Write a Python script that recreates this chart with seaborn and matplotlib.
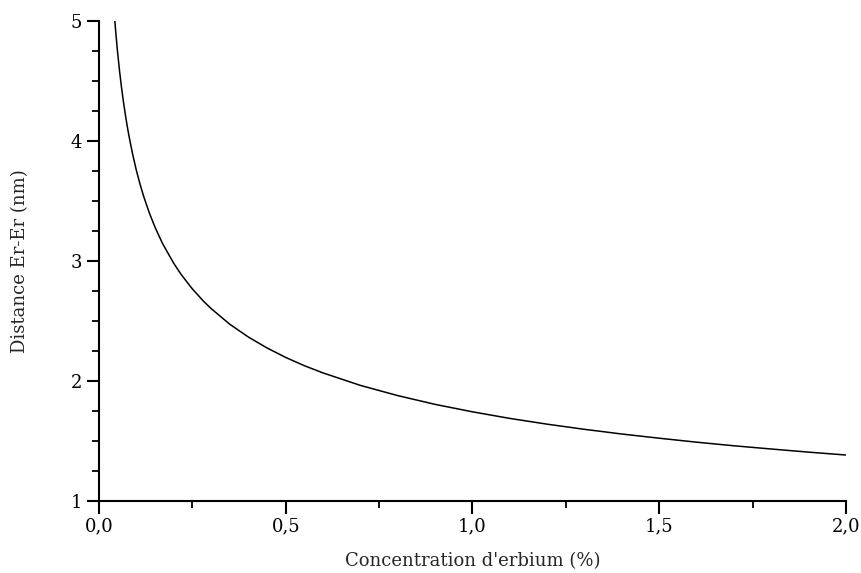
import matplotlib
matplotlib.use("Agg")
import matplotlib.pyplot as plt
import seaborn as sns
import pandas as pd
from matplotlib.ticker import MultipleLocator, FixedLocator

# Data
concentration = [0.042, 0.046, 0.05, 0.055, 0.06, 0.065, 0.07, 0.075, 0.08, 0.09,
                 0.10, 0.11, 0.12, 0.135, 0.15, 0.17, 0.20, 0.22, 0.25, 0.28,
                 0.30, 0.35, 0.40, 0.45, 0.50, 0.55, 0.60, 0.70, 0.80, 0.90,
                 1.00, 1.10, 1.20, 1.30, 1.40, 1.50, 1.60, 1.70, 1.80, 1.90, 2.00]
distance = [5.014, 4.865, 4.731, 4.583, 4.452, 4.335, 4.230, 4.133, 4.045, 3.890,
            3.755, 3.638, 3.534, 3.398, 3.281, 3.146, 2.981, 2.887, 2.767, 2.664,
            2.604, 2.473, 2.366, 2.275, 2.196, 2.127, 2.067, 1.963, 1.878, 1.805,
            1.743, 1.688, 1.640, 1.597, 1.558, 1.523, 1.490, 1.460, 1.433, 1.407, 1.383]
x_ticks = [0.0, 0.5, 1.0, 1.5, 2.0]
x_tick_labels = ["0,0", "0,5", "1,0", "1,5", "2,0"]
y_ticks = [1, 2, 3, 4, 5]
y_tick_labels = ["1", "2", "3", "4", "5"]

sns.set_theme(style="ticks")
plt.rcParams['font.family'] = ['DejaVu Serif']

df = pd.DataFrame({"x": concentration, "y": distance})

fig = plt.figure(figsize=(8.61, 5.73), dpi=100)
ax = fig.add_axes([0.115, 0.1257, 0.8675, 0.8377])
sns.lineplot(data=df, x="x", y="y", ax=ax, color="black", linewidth=1.1)

ax.set_xlim(0, 2.0)
ax.set_ylim(1, 5)
ax.xaxis.set_major_locator(FixedLocator(x_ticks))
ax.set_xticklabels(x_tick_labels)
ax.yaxis.set_major_locator(FixedLocator(y_ticks))
ax.set_yticklabels(y_tick_labels)
ax.xaxis.set_minor_locator(MultipleLocator(0.25))
ax.yaxis.set_minor_locator(MultipleLocator(0.25))

for s in ["top", "right"]:
    ax.spines[s].set_visible(False)
for s in ["left", "bottom"]:
    ax.spines[s].set_linewidth(1.5)
    ax.spines[s].set_color("black")

ax.tick_params(which="major", direction="out", length=9, width=1.5, labelsize=13,
               colors="black", pad=3)
ax.tick_params(which="minor", direction="out", length=5, width=1.3, colors="black")

ax.set_xlabel("Concentration d'erbium (%)", fontsize=13, labelpad=12)
ax.set_ylabel("Distance Er-Er (nm)", fontsize=13, labelpad=30)
ax.grid(False)

fig.savefig("out.png", dpi=100)
